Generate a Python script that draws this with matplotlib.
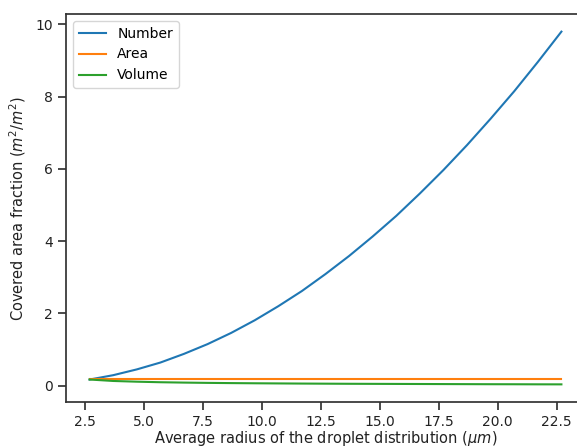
import matplotlib
matplotlib.use("Agg")
import matplotlib.pyplot as plt

# average droplet radius (um)
radius = [2.7, 3.7, 4.7, 5.7, 6.7, 7.7, 8.7, 9.7, 10.7, 11.7, 12.7,
          13.7, 14.7, 15.7, 16.7, 17.7, 18.7, 19.7, 20.7, 21.7, 22.7]
# covered area fraction
number = [0.17, 0.29, 0.45, 0.64, 0.88, 1.15, 1.46, 1.81, 2.20, 2.62, 3.09,
          3.59, 4.13, 4.70, 5.32, 5.97, 6.66, 7.39, 8.15, 8.96, 9.80]
area = [0.18] * len(radius)
volume = [0.17, 0.13, 0.11, 0.095, 0.085, 0.077, 0.071, 0.066, 0.062, 0.058, 0.055,
          0.052, 0.050, 0.048, 0.046, 0.044, 0.042, 0.040, 0.039, 0.037, 0.036]

plt.rcParams['axes.edgecolor'] = '#333333'
plt.rcParams['axes.linewidth'] = 1.25
plt.rcParams['xtick.color'] = '#333333'
plt.rcParams['ytick.color'] = '#333333'
plt.rcParams['xtick.major.size'] = 6
plt.rcParams['ytick.major.size'] = 6
plt.rcParams['xtick.major.width'] = 1.25
plt.rcParams['ytick.major.width'] = 1.25

fig = plt.figure(figsize=(5.77, 4.48), dpi=100)
ax = fig.add_axes([66 / 577, 46 / 448, 519 / 577, 388 / 448])

ax.plot(radius, number, label='Number', lw=1.5)
ax.plot(radius, area, label='Area', lw=1.5)
ax.plot(radius, volume, label='Volume', lw=1.5)

ax.set_xticks([2.5, 5.0, 7.5, 10.0, 12.5, 15.0, 17.5, 20.0, 22.5])
ax.set_yticks([0, 2, 4, 6, 8, 10])
ax.tick_params(labelsize=10, labelcolor='#222222')
ax.set_xlabel(r'Average radius of the droplet distribution ($\mu m$)', fontsize=10.5,
              color='#222222', labelpad=0)
ax.set_ylabel(r'Covered area fraction ($m^2/m^2$)', fontsize=10.5, color='#222222', labelpad=5)
ax.legend(loc='upper left', fontsize=10)

fig.savefig('out.png', dpi=100)
